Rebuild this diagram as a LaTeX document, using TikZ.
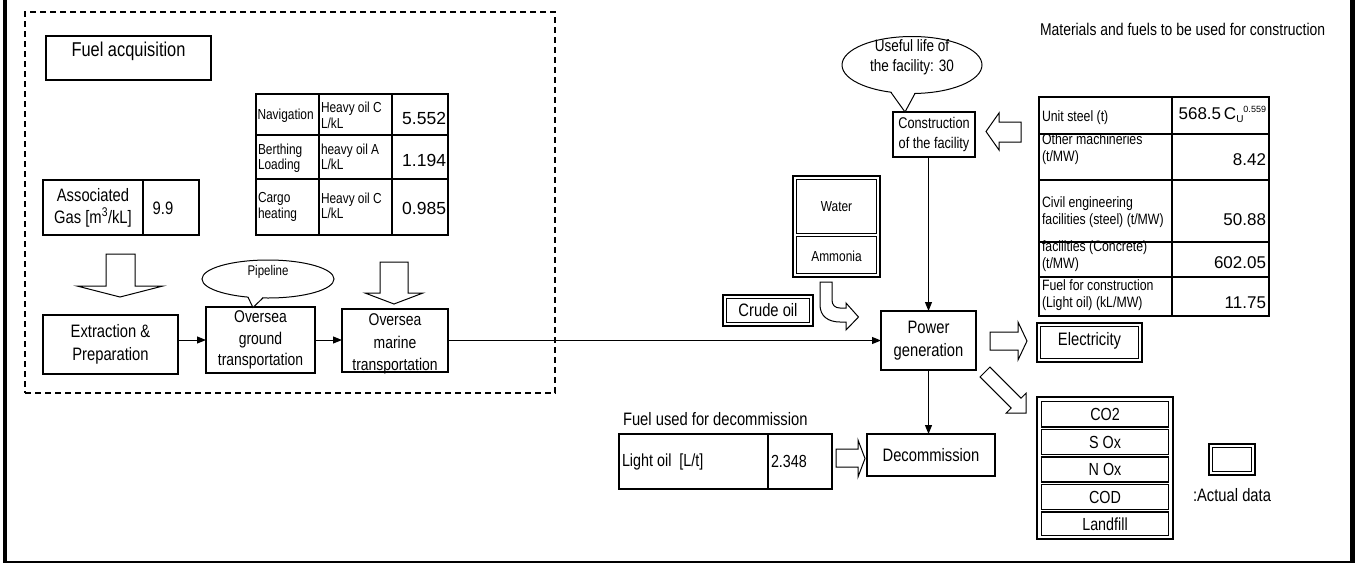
\documentclass[tikz,border=0pt]{standalone}
\usepackage{fontspec}
\setmainfont{Liberation Sans}[FakeStretch=0.82]
\newfontfamily\numfont{Liberation Sans}
\usetikzlibrary{arrows.meta,shapes.geometric}
\newcommand\fsz[2]{\fontsize{#1}{#2}\selectfont}
% rectangle node given by its corners: [style]{name}{x1}{y1}{x2}{y2}
\newcommand\cellbox[6][grid]{%
  \node[#1,minimum width={(#5-#3)*1pt},minimum height={(#6-#4)*1pt}]
    (#2) at ({(#3+#5)/2},{(#4+#6)/2}) {};}
\begin{document}
\begin{tikzpicture}[x=1pt,y=-1pt,
  every node/.style={inner sep=0pt,outer sep=0pt},
  box/.style={draw,line width=1.1pt,align=center,font=\fsz{18}{23}},
  grid/.style={draw,line width=1.8pt},
  thin/.style={draw,line width=1.1pt},
  dout/.style={draw,line width=1.1pt},
  din/.style={draw,line width=1.7pt},
  lt/.style={anchor=west,align=left},
  rt/.style={anchor=east,align=right},
  hollow/.style={draw,line width=1pt,fill=white,line join=miter},
  flow/.style={line width=1pt,-{Triangle[length=9pt,width=7pt]}},
  callout/.style={draw,ellipse,line width=1pt,fill=white}]

\useasboundingbox (0,0) rectangle (1359,565);

% frame, open at the top
\draw[line width=4pt] (5.3,0) -- (5.3,563.3);
\draw[line width=5pt] (1352.5,0) -- (1352.5,563.3);
\draw[line width=2.6pt] (3.3,562) -- (1355,562);

% fuel acquisition zone
\cellbox[draw,line width=1.1pt,dash pattern=on 6pt off 4pt]{acqzone}{25}{12}{555}{393}
\cellbox[thin]{facq}{46}{36}{211}{80}
\node[anchor=base,font=\fsz{20}{24}] (facqt) at (128.5,56) {Fuel acquisition};

% shipping fuel table
\cellbox{nav11}{256}{94}{319}{135}
\cellbox{nav12}{319}{94}{392}{135}
\cellbox{nav13}{392}{94}{448}{135}
\cellbox{nav21}{256}{135}{319}{179}
\cellbox{nav22}{319}{135}{392}{179}
\cellbox{nav23}{392}{135}{448}{179}
\cellbox{nav31}{256}{179}{319}{235}
\cellbox{nav32}{319}{179}{392}{235}
\cellbox{nav33}{392}{179}{448}{235}
\begin{scope}[every node/.append style={font=\fsz{14.5}{15.5}}]
\node[lt] (nav11t) at (257.5,116) {Navigation};
\node[lt] (nav12t) at (321,115.5) {Heavy oil C\\L/kL};
\node[lt] (nav21t) at (258,158) {Berthing\\Loading};
\node[lt] (nav22t) at (321,157) {heavy oil A\\L/kL};
\node[lt] (nav31t) at (258,207) {Cargo\\heating};
\node[lt] (nav32t) at (321,206) {Heavy oil C\\L/kL};
\end{scope}
\begin{scope}[every node/.append style={font=\numfont\fsz{17.5}{18}}]
\node[rt] (nav13t) at (446,118) {5.552};
\node[rt] (nav23t) at (446,160) {1.194};
\node[rt] (nav33t) at (446,208) {0.985};
\end{scope}

% associated gas table
\cellbox{gas1}{43}{180}{143}{235}
\cellbox{gas2}{143}{180}{199}{235}
\node[align=center,font=\fsz{18}{22}] (gas1t) at (93,207.5) {Associated\\Gas [m\textsuperscript{3}/kL]};
\node[font=\fsz{18}{22}] (gas2t) at (163,208) {9.9};

% input block arrows
\draw[hollow] (106,254) -- (135,254) -- (135,286) -- (163,286) -- (120,297) -- (77,286) -- (106,286) -- cycle;
\draw[hollow] (380,262) -- (408,262) -- (408,293) -- (423,293) -- (394,304) -- (365,293) -- (380,293) -- cycle;

% fuel chain
\node[box,minimum width=135pt,minimum height=59pt] (extract) at (110.5,344.5) {Extraction \&\\Preparation};
\node[box,font=\fsz{17}{21.5},minimum width=109pt,minimum height=66pt] (ground) at (260.5,340) {Oversea\\ground\\transportation};
\node[draw,line width=1.1pt,minimum width=106pt,minimum height=63pt] (marine) at (395,340.5) {};
\node[align=center,font=\fsz{17}{22.5}] (marinet) at (395,344) {Oversea\\marine\\transportation};

% pipeline callout
\node[callout,minimum width=132pt,minimum height=38pt] (pipe) at (268,279) {};
\node[font=\fsz{14}{16}] (pipet) at (268,272) {Pipeline};
\coordinate (pipetip) at (253,307.5);
\fill[white] ([yshift=1.5pt]pipe.222) -- (pipetip) -- ([yshift=1.5pt]pipe.255) -- cycle;
\draw[line width=1pt] (pipe.222) -- (pipetip) -- (pipe.255);

% power plant
\node[box,minimum width=95pt,minimum height=59pt] (power) at (928.5,340.5) {Power\\generation};
\node[box,font=\fsz{15.5}{19.5}, minimum width=82pt,minimum height=45pt] (constr) at (934,134.5) {Construction\\of the facility};

% useful life callout
\node[callout,minimum width=140pt,minimum height=57pt] (life) at (912,65) {};
\node[align=center,font=\fsz{16.5}{19.5}] (lifet) at (912,57) {Useful life of\\the facility: 30};
\coordinate (lifetip) at (905,112);
\fill[white] ([yshift=1.5pt]life.232) -- (lifetip) -- ([yshift=1.5pt]life.276) -- cycle;
\draw[line width=1pt] (life.232) -- (lifetip) -- (life.276);

% construction materials
\node[anchor=west,font=\fsz{17}{18}] (mattitle) at (1040,29) {Materials and fuels to be used for construction};
\draw[hollow] (1021,122) -- (999,122) -- (999,113) -- (986,131.5) -- (999,150) -- (999,142) -- (1021,142) -- cycle;
\cellbox{mat1l}{1039}{97}{1172}{134}
\cellbox{mat1r}{1172}{97}{1269}{134}
\cellbox{mat2l}{1039}{134}{1172}{180}
\cellbox{mat2r}{1172}{134}{1269}{180}
\cellbox{mat3l}{1039}{180}{1172}{242}
\cellbox{mat3r}{1172}{180}{1269}{242}
\cellbox{mat4l}{1039}{242}{1172}{277}
\cellbox{mat4r}{1172}{242}{1269}{277}
\cellbox{mat5l}{1039}{277}{1172}{316}
\cellbox{mat5r}{1172}{277}{1269}{316}
\begin{scope}[every node/.append style={font=\fsz{15}{17}}]
\node[lt] (mat1lt) at (1042,118) {Unit steel (t)};
\node[lt] (mat2lt) at (1042,149) {Other machineries\\(t/MW)};
\node[lt] (mat3lt) at (1042,212) {Civil engineering\\facilities (steel) (t/MW)};
\node[lt] (mat4lt) at (1042,256) {facilities (Concrete)\\(t/MW)};
\node[lt] (mat5lt) at (1042,295) {Fuel for construction\\(Light oil) (kL/MW)};
\end{scope}
\begin{scope}[every node/.append style={font=\numfont\fsz{17}{18}}]
\node[rt] (mat1rt) at (1266,114) {568.5\,C\raisebox{-3pt}{\fsz{10}{10}U}\raisebox{7pt}{\fsz{9}{9}0.559}};
\node[rt] (mat2rt) at (1266,160) {8.42};
\node[rt] (mat3rt) at (1266,220) {50.88};
\node[rt] (mat4rt) at (1266,263) {602.05};
\node[rt] (mat5rt) at (1266,303) {11.75};
\end{scope}

% water and ammonia
\cellbox[din]{wa}{793}{176}{880}{277}
\cellbox[din]{water}{796.5}{179.5}{876.5}{233.5}
\cellbox[din]{ammonia}{796.5}{236.5}{876.5}{273.5}
\node[font=\fsz{14.5}{16}] (watert) at (836.5,207) {Water};
\node[font=\fsz{14.5}{16}] (ammoniat) at (836.5,256) {Ammonia};
\draw[hollow] (820,282) -- (820,305) .. controls (820,316) and (828,322) .. (840,322) -- (846,322) -- (846,330) -- (858.5,317) -- (846,303) -- (846,308) -- (840,308) .. controls (835,308) and (832,305) .. (832,300) -- (832,282) -- cycle;

% crude oil
\cellbox[dout]{crude}{723}{295}{813}{326}
\cellbox[din]{crudein}{726.5}{298.5}{809.5}{322.5}
\node[font=\fsz{18}{20}] (crudet) at (768,310.5) {Crude oil};

% electricity
\draw[hollow] (990,332) -- (1018,332) -- (1018,322) -- (1027,341) -- (1018,360) -- (1018,350) -- (990,350) -- cycle;
\cellbox[dout]{elec}{1037}{323}{1142}{362}
\cellbox[din]{elecin}{1040.5}{326.5}{1138.5}{358.5}
\node[font=\fsz{18}{20}] (elect) at (1089.5,341) {Electricity};

% emissions
\draw[hollow,shift={(985,372)},rotate=-45] (0,-7) -- (44,-7) -- (44,-14) -- (58,0) -- (44,14) -- (44,7) -- (0,7) -- cycle;
\cellbox[din]{emis}{1037}{397}{1173}{539}
\cellbox[din]{co2}{1041.5}{401.5}{1168.5}{427}
\cellbox[din]{sox}{1041.5}{429.5}{1168.5}{454.5}
\cellbox[din]{nox}{1041.5}{457}{1168.5}{482}
\cellbox[din]{cod}{1041.5}{484.5}{1168.5}{509.5}
\cellbox[din]{landfill}{1041.5}{512}{1168.5}{535.5}
\begin{scope}[every node/.append style={font=\fsz{17.5}{19}}]
\node (co2t) at (1105,414.5) {CO2};
\node (soxt) at (1105,442) {S Ox};
\node (noxt) at (1105,469.5) {N Ox};
\node (codt) at (1105,497) {COD};
\node (landfillt) at (1105,524) {Landfill};
\end{scope}

% legend
\cellbox[dout]{legend}{1209}{444}{1255}{475}
\cellbox[din]{legendin}{1212.5}{447.5}{1251.5}{471.5}
\node[font=\fsz{18}{20}] (legendt) at (1232,495) {:Actual data};

% decommissioning
\node[anchor=base west,font=\fsz{18}{20}] (decomtitle) at (623,425) {Fuel used for decommission};
\cellbox[thin]{light1}{619}{434}{768}{489}
\cellbox[thin]{light2}{768}{434}{832}{489}
\node[lt,font=\fsz{17.5}{20}] (light1t) at (622,461.5) {Light oil~~[L/t]};
\node[lt,font=\fsz{17.5}{20}] (light2t) at (771,461.5) {2.348};
\draw[hollow] (836,449) -- (858,449) -- (858,440) -- (865,458.5) -- (858,477) -- (858,467) -- (836,467) -- cycle;
\node[box,minimum width=128pt,minimum height=42pt] (decom) at (931,455) {Decommission};

% flow connectors
\draw[flow] (extract.east |- ground.west) -- (ground.west);
\draw[flow] (ground.east) -- (ground.east -| marine.west);
\draw[flow] (marine.east) -- (marine.east -| power.west);
\draw[flow] (power.north |- constr.south) -- (power.north);
\draw[flow] (power.south) -- (power.south |- decom.north);

\end{tikzpicture}
\end{document}
